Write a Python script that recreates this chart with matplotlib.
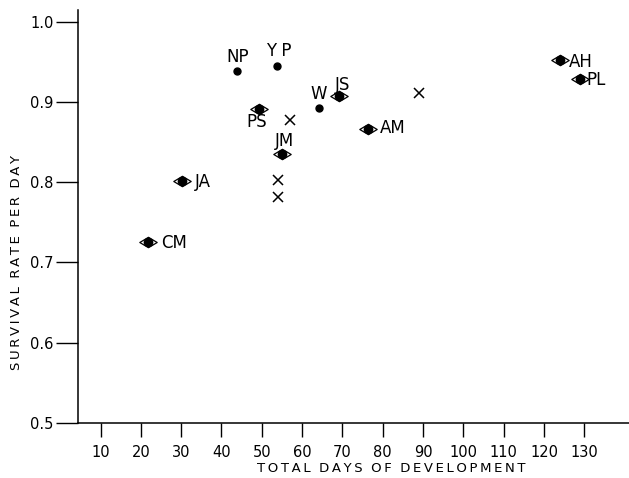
import matplotlib
matplotlib.use('Agg')
import matplotlib.pyplot as plt
from matplotlib.path import Path

# labelled species, eye-shaped markers (open lens with filled centre)
eye_names = ['CM', 'JA', 'PS', 'JM', 'JS', 'AM', 'AH', 'PL']
eye_days = [21.8, 30.3, 49.4, 55.1, 69.2, 76.3, 124.1, 128.9]
eye_rate = [0.725, 0.802, 0.891, 0.835, 0.908, 0.866, 0.952, 0.929]

# labelled species, solid dots
dot_names = ['NP', 'Y P', 'W']
dot_days = [43.9, 53.7, 64.2]
dot_rate = [0.938, 0.945, 0.892]

# unlabelled points drawn as X
x_days = [57.1, 53.9, 53.9, 89.0]
x_rate = [0.877, 0.803, 0.782, 0.911]

xticks = list(range(10, 131, 10))
yticks = [0.5, 0.6, 0.7, 0.8, 0.9, 1.0]

# label offsets in pixels from the marker (dx, dy, ha)
label_pos = {
    'CM': (13, -1, 'left'), 'JA': (12, -1, 'left'), 'PS': (-3, -13, 'center'),
    'JM': (2, 13, 'center'), 'JS': (3, 11, 'center'), 'AM': (12, 1, 'left'),
    'AH': (8, -2, 'left'), 'PL': (7, -1, 'left'),
    'NP': (0, 14, 'center'), 'Y P': (2, 15, 'center'), 'W': (0, 14, 'center'),
}


def spaced(s):
    # wide lettering like the stencilled original
    return '  '.join('\u2009'.join(w) for w in s.split(' '))


plt.rcParams['font.family'] = ['DejaVu Sans']

fig = plt.figure(figsize=(6.29, 4.78), dpi=100)
ax = fig.add_axes([78 / 629, 55 / 478, 551 / 629, 413 / 478])

lens = Path([(-1, 0), (0, 0.6), (1, 0), (0, -0.6), (-1, 0)],
            [Path.MOVETO, Path.LINETO, Path.LINETO, Path.LINETO, Path.CLOSEPOLY])

ax.plot(eye_days, eye_rate, ls='none', marker=lens, ms=12.5, mfc='none',
        mec='black', mew=0.9)
ax.plot(eye_days, eye_rate, ls='none', marker='o', ms=6, color='black')
ax.plot(dot_days, dot_rate, ls='none', marker='o', ms=5, color='black')
ax.plot(x_days, x_rate, ls='none', marker='x', ms=7.5, mew=1.1, color='black')

for names, xs, ys in [(eye_names, eye_days, eye_rate), (dot_names, dot_days, dot_rate)]:
    for n, xv, yv in zip(names, xs, ys):
        dx, dy, ha = label_pos[n]
        ax.annotate(n, (xv, yv), xytext=(dx, dy), textcoords='offset pixels',
                    ha=ha, va='center', fontsize=12, color='black')

ax.set_xlim(4.4, 141.1)
ax.set_ylim(0.5, 1.0146)
ax.set_xticks(xticks)
ax.set_xticklabels([str(t) for t in xticks])
ax.set_yticks(yticks)
ax.set_yticklabels(['%.1f' % t for t in yticks])

for s in ['top', 'right']:
    ax.spines[s].set_visible(False)
for s in ['left', 'bottom']:
    ax.spines[s].set_linewidth(1.1)

ax.tick_params(axis='y', direction='out', length=16, width=1.0, pad=1.5, labelsize=10.5)
ax.tick_params(axis='x', direction='out', length=10, width=1.0, pad=6, labelsize=10.5)

ax.set_xlabel(spaced('TOTAL DAYS OF DEVELOPMENT'), fontsize=9.5)
ax.xaxis.set_label_coords((391 - 78) / 551, (423 - 468) / 413)
ax.xaxis.label.set_va('center')
ax.set_ylabel(spaced('SURVIVAL RATE PER DAY'), fontsize=9.5)
ax.yaxis.set_label_coords((17 - 78) / 551, (423 - 262) / 413)
ax.yaxis.label.set_va('center')

fig.savefig('out.png', dpi=100)
